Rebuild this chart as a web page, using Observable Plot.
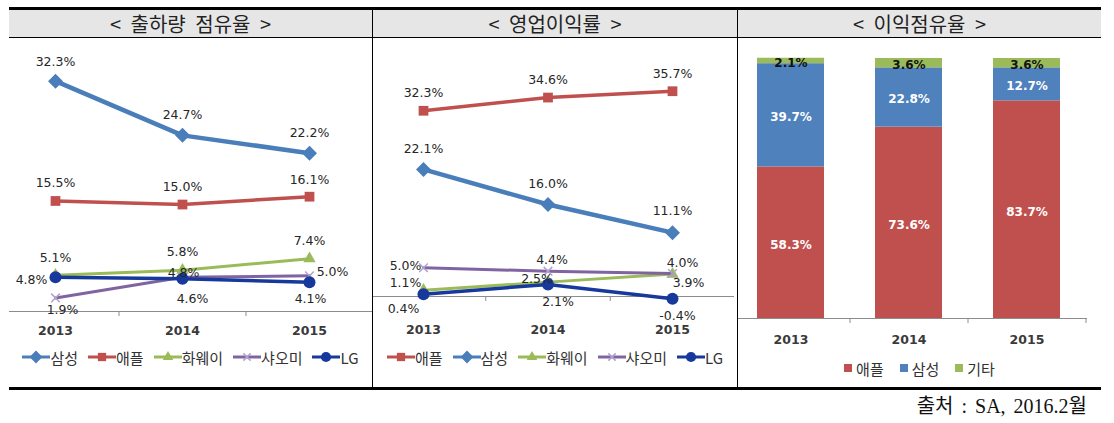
<!DOCTYPE html>
<html>
<head>
<meta charset="utf-8">
<script src="https://cdn.jsdelivr.net/npm/d3@7"></script>
<script src="https://cdn.jsdelivr.net/npm/@observablehq/plot@0.6"></script>
<style>
  html, body { margin: 0; padding: 0; background: #fff; }
  #root { position: relative; width: 1114px; height: 423px; overflow: hidden; background: #fff; font-family: "Noto Sans CJK KR", "DejaVu Sans", sans-serif; }
  .abs { position: absolute; }
  .hdr { position: absolute; top: 10px; height: 27px; display: flex; align-items: center; justify-content: center; font-size: 20px; color: #222; word-spacing: 5px; }
  .legend { position: absolute; height: 20px; display: flex; align-items: center; justify-content: center; font-size: 15px; color: #333; }
  .legend .item { display: flex; align-items: center; margin: 0 5px; }
  .legend.sq .item { margin: 0 8px; }
  .legend svg { display: block; }
  .src { position: absolute; right: 27px; top: 390px; font-family: "Liberation Serif", "Noto Sans CJK KR", serif; font-size: 20px; color: #111; word-spacing: 3px; }
</style>
</head>
<body>
<div id="root"></div>
<script>
// ---------------- data ----------------
const years = [2013, 2014, 2015];

// 출하량 점유율
const shipNames = ["삼성", "애플", "화웨이", "샤오미", "LG"];
const shipSamsung = [32.3, 24.7, 22.2];
const shipApple = [15.5, 15.0, 16.1];
const shipHuawei = [5.1, 5.8, 7.4];
const shipXiaomi = [1.9, 4.8, 5.0];
const shipLG = [4.8, 4.6, 4.1];

// 영업이익률
const opNames = ["애플", "삼성", "화웨이", "샤오미", "LG"];
const opApple = [32.3, 34.6, 35.7];
const opSamsung = [22.1, 16.0, 11.1];
const opHuawei = [1.1, 2.5, 3.9];
const opXiaomi = [5.0, 4.4, 4.0];
const opLG = [0.4, 2.1, -0.4];

// 이익점유율
const profitNames = ["애플", "삼성", "기타"];
const profitApple = [58.3, 73.6, 83.7];
const profitSamsung = [39.7, 22.8, 12.7];
const profitOther = [2.1, 3.6, 3.6];

const titles = ["< 출하량 점유율 >", "< 영업이익률 >", "< 이익점유율 >"];
const source = "출처 : SA, 2016.2월";

// ---------------- styles ----------------
const seriesStyle = {
  "삼성":  {color: "#4a7ebb", symbol: "square", rotate: 45, r: 6, sw: 4.5},
  "애플":  {color: "#c0504d", symbol: "square", rotate: 0, r: 5.5, sw: 3.5},
  "화웨이": {color: "#9bbb59", symbol: "triangle", rotate: 0, r: 4.6, sw: 3},
  "샤오미": {color: "#8064a2", symbol: "times", rotate: 0, r: 4, sw: 3, markerColor: "#b0a2cc"},
  "LG":    {color: "#17399b", symbol: "circle", rotate: 0, r: 6, sw: 3.5}
};
const barColors = {"애플": "#c0504d", "삼성": "#4f81bd", "기타": "#9bbb59"};

// label offsets [dx, dy] per point
const shipLabelOffsets = {
  "삼성":  [[0, -19], [0, -20], [0, -20]],
  "애플":  [[0, -18], [0, -18], [0, -17]],
  "화웨이": [[0, -17], [0, -18], [0, -18]],
  "샤오미": [[7, 12], [1, -4], [23, -4]],
  "LG":    [[-24, 3], [10, 20], [1, 17]]
};
const opLabelOffsets = {
  "애플":  [[0, -18], [0, -18], [0, -17]],
  "삼성":  [[0, -20], [0, -21], [0, -22]],
  "화웨이": [[-18, -7], [-11, -3], [16, 9]],
  "샤오미": [[-18, -2], [4, -11], [10, -11]],
  "LG":    [[-20, 15], [10, 18], [5, 17]]
};

const fmt = v => v.toFixed(1) + "%";
const labelFont = {fontFamily: "DejaVu Sans", fontSize: 12.5, fill: "#262626"};
const axisFont = {fontFamily: "DejaVu Sans", fontSize: 12.5, fontWeight: "bold", fill: "#3a3a3a"};
const axisColor = "#8c8c8c";

function rowsOf(names, arrays) {
  return names.flatMap((name, si) => years.map((year, i) => ({name, year, value: arrays[si][i], i})));
}

function seriesMarks(rows, names, offsets) {
  const marks = [];
  for (const name of names) {
    const s = seriesStyle[name];
    const data = rows.filter(d => d.name === name);
    marks.push(Plot.line(data, {x: "year", y: "value", stroke: s.color, strokeWidth: s.sw, strokeLinejoin: "round"}));
    if (s.symbol === "times") {
      marks.push(Plot.dot(data, {x: "year", y: "value", symbol: "times", r: s.r, stroke: s.markerColor, strokeWidth: 1.5, fill: "none"}));
    } else {
      marks.push(Plot.dot(data, {x: "year", y: "value", symbol: s.symbol, r: s.r, fill: s.color, stroke: "none", rotate: s.rotate}));
    }
  }
  for (const name of names) {
    const data = rows.filter(d => d.name === name);
    data.forEach((d, i) => {
      const [dx, dy] = offsets[name][i];
      marks.push(Plot.text([d], {x: "year", y: "value", text: r => fmt(r.value), dx, dy, ...labelFont}));
    });
  }
  return marks;
}

function linePanel({rows, names, offsets, width, height, xRange, yDomain, yRange, marginRight, labelDy}) {
  const bounds = years.slice(0, -1).map(y => y + 0.5);
  return Plot.plot({
    width, height,
    marginLeft: 0, marginTop: 0, marginBottom: 0, marginRight,
    style: {background: "transparent", overflow: "visible"},
    x: {type: "linear", domain: [years[0], years[years.length - 1]], range: xRange, axis: null},
    y: {domain: yDomain, range: yRange, axis: null},
    marks: [
      Plot.ruleY([0], {stroke: axisColor, strokeWidth: 1}),
      Plot.ruleX(bounds, {x: d => d, y1: 0, y2: 0, insetBottom: -5, stroke: axisColor}),
      Plot.text(years, {x: d => d, y: 0, dy: labelDy, text: d => String(d), ...axisFont}),
      ...seriesMarks(rows, names, offsets)
    ]
  });
}

// ---------------- layout ----------------
const root = document.getElementById("root");
function box(left, top, w, h, bg) {
  const d = document.createElement("div");
  d.className = "abs";
  Object.assign(d.style, {left: left + "px", top: top + "px", width: w + "px", height: h + "px", background: bg});
  root.appendChild(d);
  return d;
}
box(9, 10, 1092, 27, "#e6e6e6");
box(9, 7, 1092, 3, "#000");
box(9, 37, 1092, 1, "#000");
box(372, 10, 1, 377, "#000");
box(737, 10, 1, 377, "#000");
box(9, 387, 1092, 3, "#000");

const cols = [[9, 363], [373, 364], [738, 363]];
titles.forEach((t, i) => {
  const d = document.createElement("div");
  d.className = "hdr";
  d.style.left = cols[i][0] + "px";
  d.style.width = cols[i][1] + "px";
  d.textContent = t;
  root.appendChild(d);
});

function place(node, left, top) {
  node.style.position = "absolute";
  node.style.left = left + "px";
  node.style.top = top + "px";
  root.appendChild(node);
}

// Panel 1
const shipRows = rowsOf(shipNames, [shipSamsung, shipApple, shipHuawei, shipXiaomi, shipLG]);
place(linePanel({
  rows: shipRows, names: shipNames, offsets: shipLabelOffsets,
  width: 363, height: 305, xRange: [46, 300], yDomain: [0, 35], yRange: [273, 23.4],
  marginRight: 0, labelDy: 19
}), 9, 38);

// Panel 2
const opRows = rowsOf(opNames, [opApple, opSamsung, opHuawei, opXiaomi, opLG]);
place(linePanel({
  rows: opRows, names: opNames, offsets: opLabelOffsets,
  width: 364, height: 305, xRange: [50, 299], yDomain: [0, 40], yRange: [258, 28],
  marginRight: 3, labelDy: 33
}), 373, 38);

// Panel 3
const profitRows = rowsOf(profitNames, [profitApple, profitSamsung, profitOther]);
const xRange3 = [-6, 348];
const step3 = (xRange3[1] - xRange3[0]) / years.length;
const barLabel = {fontFamily: "DejaVu Sans", fontSize: 12, fontWeight: "bold"};
const p3 = Plot.plot({
  width: 362, height: 315,
  marginLeft: 0, marginTop: 0, marginBottom: 0, marginRight: 13,
  style: {background: "transparent", overflow: "visible"},
  x: {type: "band", domain: years, range: xRange3, paddingInner: 0.432, paddingOuter: 0.216, axis: null},
  y: {domain: [0, 100], range: [280, 20], axis: null},
  color: {domain: profitNames, range: profitNames.map(n => barColors[n])},
  marks: [
    Plot.barY(profitRows, {x: "year", y: "value", fill: "name"}),
    Plot.ruleY([0], {stroke: axisColor}),
    Plot.ruleX(years, {x: d => d, y1: 0, y2: 0, insetBottom: -5, dx: step3 / 2, stroke: axisColor}),
    Plot.text(years, {x: d => d, y: 0, dy: 21, text: d => String(d), ...axisFont}),
    Plot.text(profitRows, Plot.stackY({x: "year", y: "value", text: d => d.name === "기타" ? "" : fmt(d.value), fill: "white", dy: 2, ...barLabel})),
    Plot.text(profitRows, Plot.stackY({x: "year", y: "value", text: d => d.name === "기타" ? fmt(d.value) : "", fill: "#111", dy: 2, ...barLabel}))
  ]
});
place(p3, 738, 38);

// ---------------- legends ----------------
const NS = "http://www.w3.org/2000/svg";
function lineSwatch(name) {
  const s = seriesStyle[name];
  const svg = document.createElementNS(NS, "svg");
  svg.setAttribute("width", 28); svg.setAttribute("height", 14);
  const ln = document.createElementNS(NS, "line");
  Object.entries({x1: 0, x2: 28, y1: 7, y2: 7, stroke: s.color, "stroke-width": 3}).forEach(([k, v]) => ln.setAttribute(k, v));
  svg.appendChild(ln);
  const sym = {square: d3.symbolSquare, triangle: d3.symbolTriangle, times: d3.symbolTimes, circle: d3.symbolCircle}[s.symbol];
  const p = document.createElementNS(NS, "path");
  const rr = s.r * 0.85;
  p.setAttribute("d", d3.symbol(sym, rr * rr * Math.PI)());
  p.setAttribute("transform", `translate(14,7) rotate(${s.rotate})`);
  if (s.symbol === "times") { p.setAttribute("fill", "none"); p.setAttribute("stroke", s.markerColor); p.setAttribute("stroke-width", 1.5); }
  else p.setAttribute("fill", s.color);
  svg.appendChild(p);
  return svg;
}
function squareSwatch(color) {
  const svg = document.createElementNS(NS, "svg");
  svg.setAttribute("width", 12); svg.setAttribute("height", 14);
  const r = document.createElementNS(NS, "rect");
  Object.entries({x: 0, y: 3, width: 8, height: 8, fill: color}).forEach(([k, v]) => r.setAttribute(k, v));
  svg.appendChild(r);
  return svg;
}
function legend(left, width, top, names, swatchFn, cls) {
  const lg = document.createElement("div");
  lg.className = "legend" + (cls ? " " + cls : "");
  lg.style.left = left + "px"; lg.style.width = width + "px"; lg.style.top = top + "px";
  names.forEach(n => {
    const it = document.createElement("div");
    it.className = "item";
    it.appendChild(swatchFn(n));
    const sp = document.createElement("span");
    sp.textContent = n;
    it.appendChild(sp);
    lg.appendChild(it);
  });
  root.appendChild(lg);
}
legend(9, 363, 347, shipNames, lineSwatch);
legend(373, 364, 347, opNames, lineSwatch);
legend(738, 363, 358, profitNames, n => squareSwatch(barColors[n]), "sq");

const src = document.createElement("div");
src.className = "src";
src.textContent = source;
root.appendChild(src);
</script>
</body>
</html>
